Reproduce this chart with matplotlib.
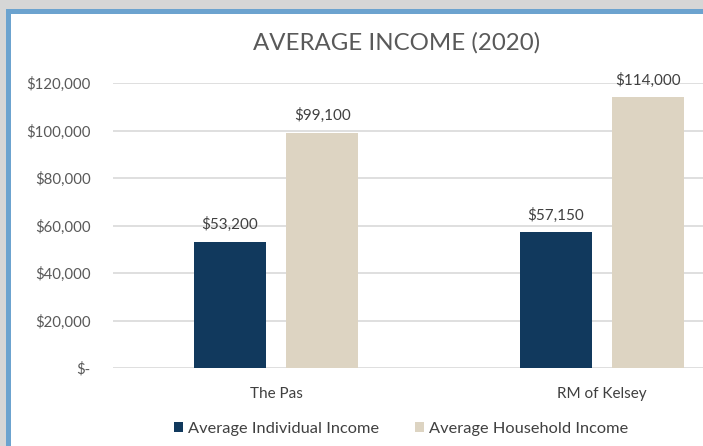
import matplotlib
matplotlib.use('Agg')
import matplotlib.pyplot as plt
from matplotlib.patches import Rectangle
import numpy as np

# data
places = ['The Pas', 'RM of Kelsey']
individual = [53200, 57150]
household = [99100, 114000]
series_names = ['Average Individual Income', 'Average Household Income']
yticks = [0, 20000, 40000, 60000, 80000, 100000, 120000]

navy = '#11395d'
beige = '#ddd4c2'

plt.rcParams['font.family'] = ['Lato', 'DejaVu Sans']

W, H = 703, 446
fig = plt.figure(figsize=(W / 100, H / 100), dpi=100)
fig.patch.set_facecolor('white')

# screenshot frame: gray shadow, blue border, white inside
fig.patches.append(Rectangle((0, 0), 1, 1, transform=fig.transFigure,
                             facecolor='#d6d6d6', edgecolor='none', zorder=-3))
fig.patches.append(Rectangle((6 / W, -0.1), 1.2, (H - 9) / H + 0.1, transform=fig.transFigure,
                             facecolor='#6ca3cf', edgecolor='none', zorder=-2))
fig.patches.append(Rectangle((11 / W, -0.1), 1.2, (H - 14) / H + 0.1, transform=fig.transFigure,
                             facecolor='white', edgecolor='none', zorder=-1))

ax = fig.add_axes([113 / W, 1 - 368 / H, 652 / W, 285 / H])
ax.set_facecolor('none')

x = np.arange(len(places))
w = 0.22
off = 0.142
b1 = ax.bar(x - off, individual, w, color=navy, label=series_names[0], zorder=3)
b2 = ax.bar(x + off, household, w, color=beige, label=series_names[1], zorder=3)

for bars in (b1, b2):
    ax.bar_label(bars, labels=['${:,.0f}'.format(v) for v in bars.datavalues],
                 padding=7, fontsize=11, color='#404040')

ax.set_xlim(-0.5, 1.5)
ax.set_ylim(0, 120000)
ax.set_yticks(yticks)
ax.set_yticklabels(['$-'] + ['${:,.0f}'.format(v) for v in yticks[1:]])
ax.set_xticks(x)
ax.set_xticklabels(places)
ax.tick_params(axis='y', length=0, pad=16, labelsize=10.8, labelcolor='#595959')
ax.tick_params(axis='x', length=0, pad=14, labelsize=11, labelcolor='#404040')
ax.grid(axis='y', color='#d9d9d9', linewidth=1.2, zorder=0)
for s in ax.spines.values():
    s.set_visible(False)

fig.text(397 / W, 1 - 43 / H, 'AVERAGE INCOME (2020)', ha='center', va='center',
         fontsize=17.3, color='#595959')

fig.legend(handles=[b1, b2], loc='center', bbox_to_anchor=(401 / W, 1 - 429 / H),
           ncol=2, frameon=False, fontsize=11.8, labelcolor='#404040',
           handlelength=0.55, handleheight=0.55, handletextpad=0.3, columnspacing=2.2)

plt.savefig('out.png', dpi=100)
